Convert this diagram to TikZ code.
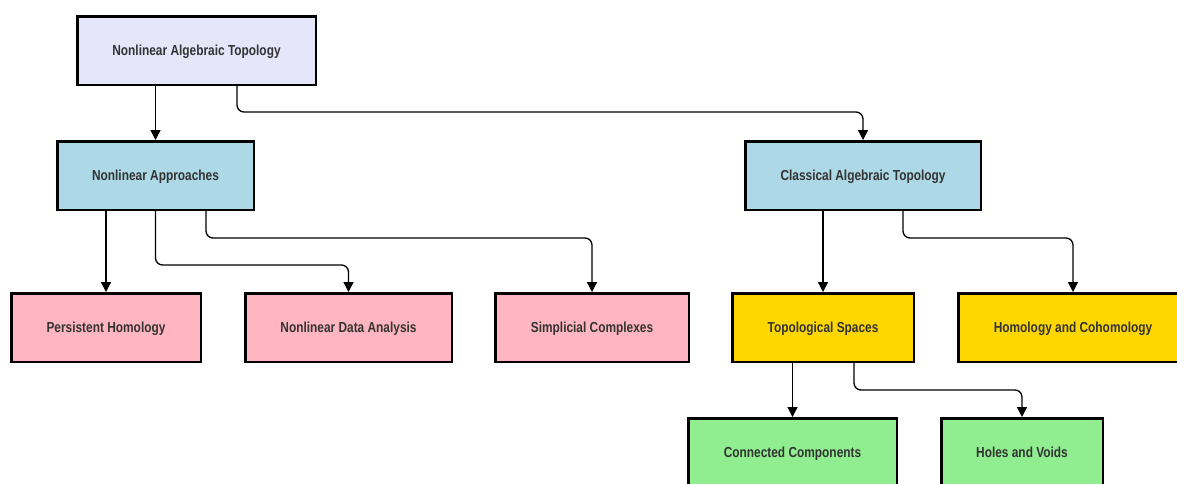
\documentclass[tikz,border=0pt]{standalone}
\usepackage{fontspec}
\setmainfont[FakeStretch=0.82]{Liberation Sans}
\usepackage{xcolor}
\usepackage{tikz}
\usetikzlibrary{arrows.meta, positioning}

\definecolor{rootfill}{HTML}{E6E6FA}
\definecolor{midfill}{HTML}{ADD8E6}
\definecolor{nlfill}{HTML}{FFB6C1}
\definecolor{clfill}{HTML}{FFD700}
\definecolor{subfill}{HTML}{90EE90}
\definecolor{txt}{HTML}{333333}

\begin{document}
\begin{tikzpicture}[
  x=1pt, y=-1pt,
  >={Triangle[length=10pt, width=10pt]},
  font=\fontsize{14.5}{16}\selectfont\bfseries,
  box/.style={rectangle, draw, line width=2.5pt, minimum height=68.5pt, text=txt, text depth=0pt, align=center, inner sep=0pt},
  root/.style={box, fill=rootfill},
  mid/.style={box, fill=midfill},
  nlleaf/.style={box, fill=nlfill},
  clleaf/.style={box, fill=clfill},
  sub/.style={box, fill=subfill},
  conn/.style={->, line width=1.3pt, rounded corners=7pt},
]
  \useasboundingbox (0,0) rectangle (1177,483);

  \node[root, minimum width=238.5pt] (nat) at (196.5,50.5) {Nonlinear Algebraic Topology};
  \node[mid, minimum width=196.5pt] (na) at (155.5,175.5) {Nonlinear Approaches};
  \node[mid, minimum width=235.5pt] (cat) at (863,175.5) {Classical Algebraic Topology};

  \node[nlleaf, minimum width=189.5pt] (ph) at (106,327.5) {Persistent Homology};
  \node[nlleaf, minimum width=206.5pt] (nda) at (348.5,327.5) {Nonlinear Data Analysis};
  \node[nlleaf, minimum width=193.5pt] (sc) at (592,327.5) {Simplicial Complexes};
  \node[clleaf, minimum width=181.5pt] (ts) at (823,327.5) {Topological Spaces};
  \node[clleaf, minimum width=229.5pt] (hc) at (1073,327.5) {Homology and Cohomology};

  \node[sub, minimum width=208.5pt] (cc) at (792.5,452.5) {Connected Components};
  \node[sub, minimum width=161.5pt] (hv) at (1022,452.5) {Holes and Voids};

  \draw[conn] (nat.south -| na.north) -- (na.north);
  \draw[conn] ([xshift=40.5pt]nat.south) -- ++(0,-26pt) -| (cat.north);

  \draw[conn] (na.south -| ph.north) -- (ph.north);
  \draw[conn] (na.south) -- ++(0,-54pt) -| (nda.north);
  \draw[conn] ([xshift=50.5pt]na.south) -- ++(0,-27pt) -| (sc.north);

  \draw[conn] (cat.south -| ts.north) -- (ts.north);
  \draw[conn] ([xshift=40pt]cat.south) -- ++(0,-27pt) -| (hc.north);

  \draw[conn] (ts.south -| cc.north) -- (cc.north);
  \draw[conn] ([xshift=31pt]ts.south) -- ++(0,-27pt) -| (hv.north);
\end{tikzpicture}
\end{document}
